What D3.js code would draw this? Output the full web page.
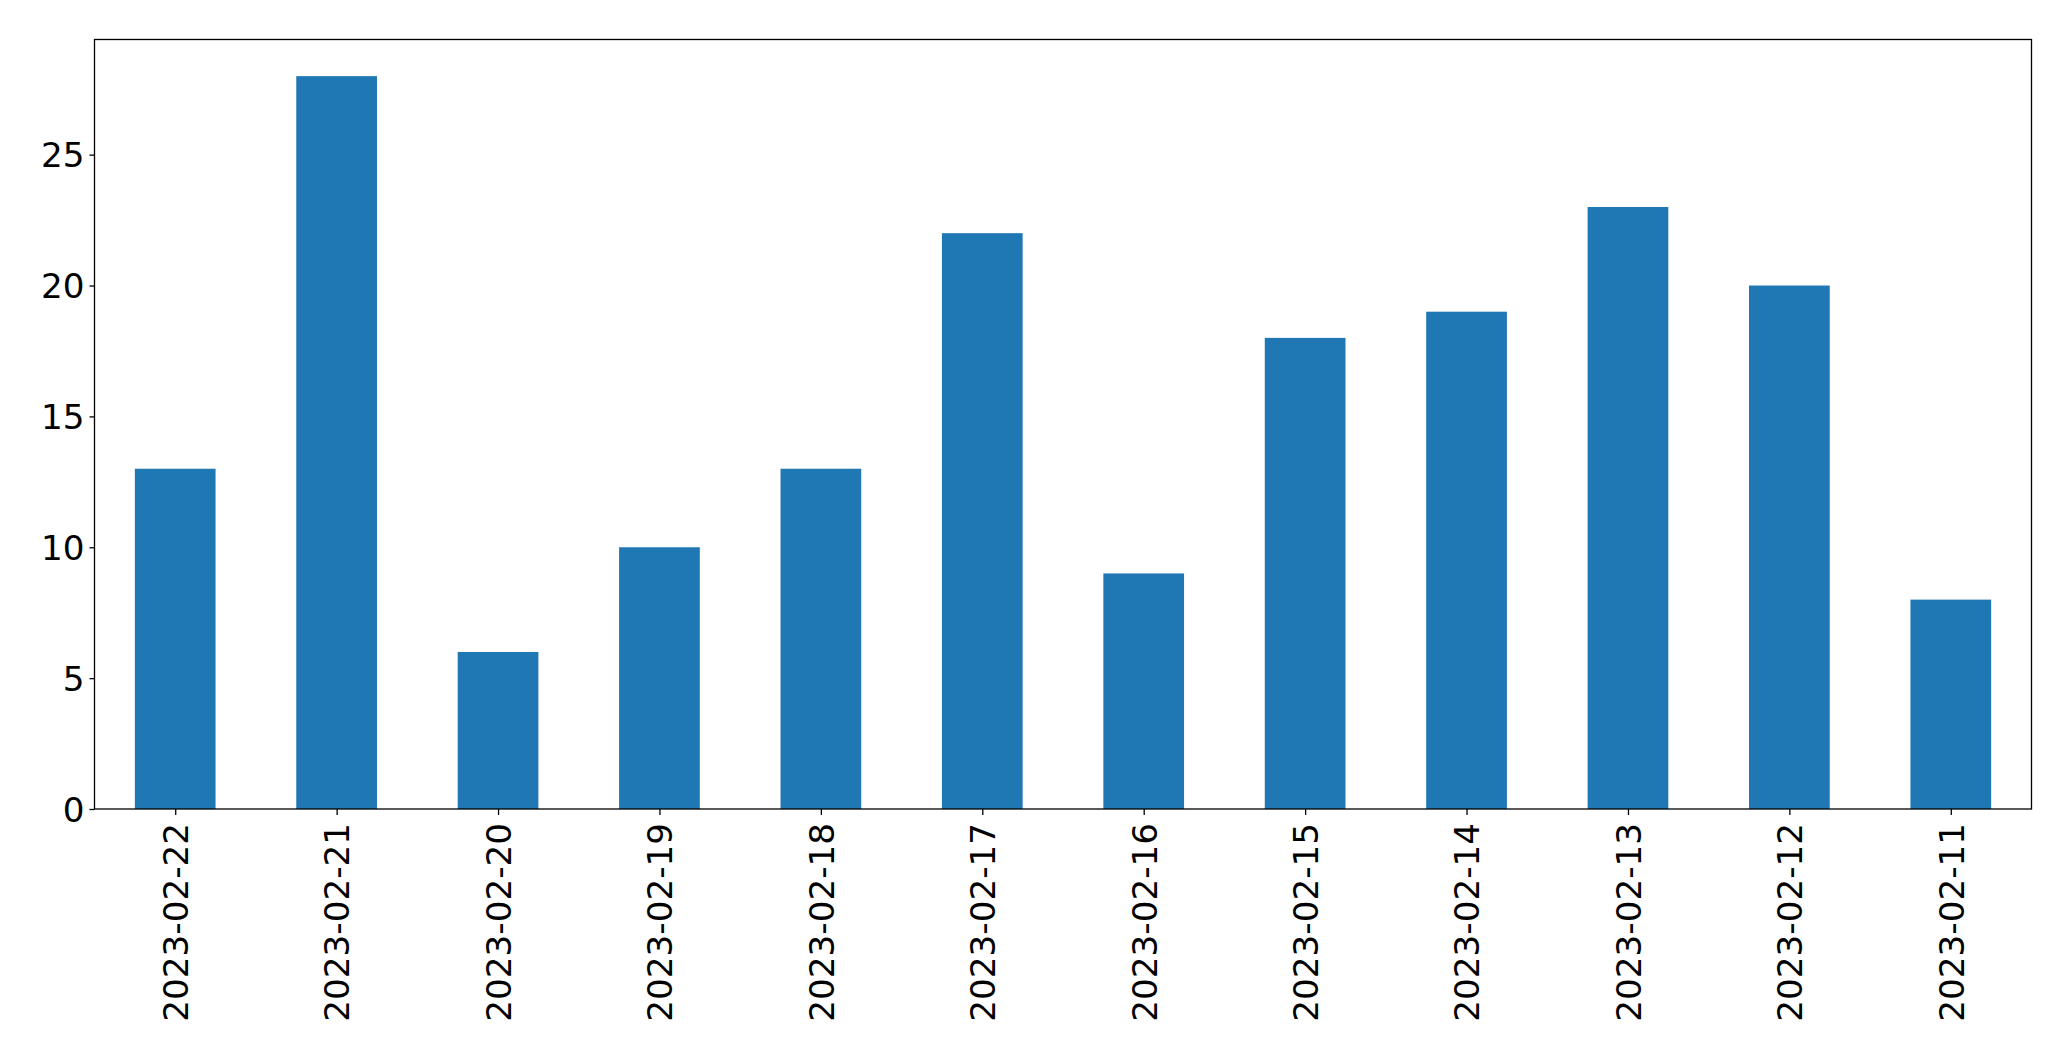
<!DOCTYPE html>
<html>
<head>
<meta charset="utf-8">
<script src="https://cdn.jsdelivr.net/npm/d3@7"></script>
<style>
  body { margin: 0; background: #fff; }
  svg text { font-family: "DejaVu Sans", sans-serif; fill: #000; }
</style>
</head>
<body>
<svg id="chart" width="2071" height="1061"></svg>
<script>
// data
var dates = ['2023-02-22', '2023-02-21', '2023-02-20', '2023-02-19', '2023-02-18', '2023-02-17',
             '2023-02-16', '2023-02-15', '2023-02-14', '2023-02-13', '2023-02-12', '2023-02-11'];
var counts = [13, 28, 6, 10, 13, 22, 9, 18, 19, 23, 20, 8];
var yTicks = [0, 5, 10, 15, 20, 25];

var margin = {top: 39.5, right: 39.5, bottom: 252, left: 94.5};
var width = 2071 - margin.left - margin.right;
var height = 1061 - margin.top - margin.bottom;

var svg = d3.select('#chart');
var g = svg.append('g').attr('transform', 'translate(' + margin.left + ',' + margin.top + ')');

// x: index positions, xlim -0.5 .. n-0.5
var x = d3.scaleLinear().domain([-0.5, dates.length - 0.5]).range([0, width]);
var y = d3.scaleLinear().domain([0, d3.max(counts) * 1.05]).range([height, 0]);
var barW = x(0.25) - x(-0.25);

g.selectAll('.bar')
  .data(counts)
  .enter().append('rect')
  .attr('class', 'bar')
  .attr('x', function(d, i) { return x(i) - barW / 2; })
  .attr('y', function(d) { return y(d); })
  .attr('width', barW)
  .attr('height', function(d) { return height - y(d); })
  .attr('fill', '#1f77b4');

// y axis
var yAxis = g.append('g')
  .call(d3.axisLeft(y).tickValues(yTicks).tickSize(5).tickPadding(5));
yAxis.select('.domain').remove();
yAxis.selectAll('line').attr('stroke', '#000').attr('stroke-width', 1.3);
yAxis.selectAll('text').style('font-size', '34.2px').attr('dy', '0.36em');

// x axis
var xAxis = g.append('g')
  .attr('transform', 'translate(0,' + height + ')')
  .call(d3.axisBottom(x).tickValues(d3.range(dates.length)).tickSize(6).tickFormat(function(i) { return dates[i]; }));
xAxis.select('.domain').remove();
xAxis.selectAll('line').attr('stroke', '#000').attr('stroke-width', 1.3);
xAxis.selectAll('text')
  .style('font-size', '34.2px')
  .attr('text-anchor', 'end')
  .attr('transform', 'rotate(-90)')
  .attr('x', -14)
  .attr('y', 0)
  .attr('dy', '0.36em');

// frame
g.append('rect')
  .attr('width', width).attr('height', height)
  .attr('fill', 'none').attr('stroke', '#000').attr('stroke-width', 1.3);
</script>
</body>
</html>
